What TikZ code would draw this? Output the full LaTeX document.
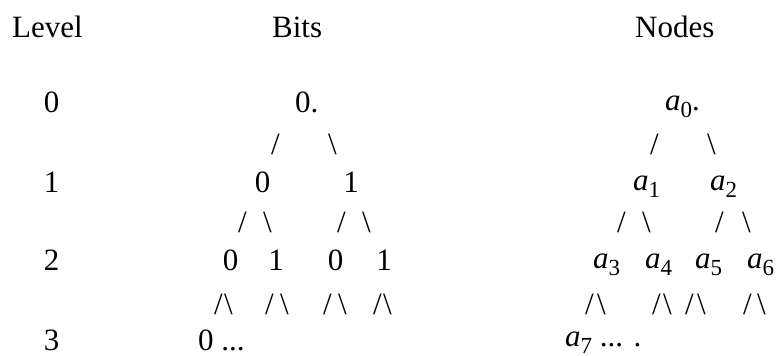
\documentclass[tikz,border=0pt]{standalone}
\usepackage{fontspec}
\setmainfont{Liberation Serif}
\newcommand\asub[1]{\textit{a}\raisebox{-7pt}{\fontsize{23}{23}\selectfont #1}}
\begin{document}
\begin{tikzpicture}[x=1pt,y=-1pt,
  lbl/.style={inner sep=0pt, anchor=base west, font=\fontsize{31}{37}\selectfont},
  ctr/.style={inner sep=0pt, anchor=base, font=\fontsize{31}{37}\selectfont}]
\useasboundingbox (0,0) rectangle (780,356);
% headers
\node[lbl] (hlevel) at (12,37) {Level};
\node[lbl] (hbits) at (272,37) {Bits};
\node[lbl] (hnodes) at (635,37) {Nodes};
% level numbers
\node[ctr] (l0) at (51.5,112) {0};
\node[ctr] (l1) at (51.5,192) {1};
\node[ctr] (l2) at (51.5,270) {2};
\node[ctr] (l3) at (51.5,350) {3};
% bits tree
\node[lbl] (b0) at (295,112) {0.};
\node[lbl] (bs1a) at (271,154) {/};
\node[lbl] (bs1b) at (328,154) {\textbackslash};
\node[ctr] (b1a) at (262.5,192) {0};
\node[ctr] (b1b) at (351,192) {1};
\node[lbl] (bs2a) at (238,232) {/};
\node[lbl] (bs2b) at (263,232) {\textbackslash};
\node[lbl] (bs2c) at (337,232) {/};
\node[lbl] (bs2d) at (362,232) {\textbackslash};
\node[ctr] (b2a) at (230.5,270) {0};
\node[ctr] (b2b) at (276,270) {1};
\node[ctr] (b2c) at (335.5,270) {0};
\node[ctr] (b2d) at (384,270) {1};
\node[lbl] (bs3a) at (214,314) {/};
\node[lbl] (bs3b) at (224,314) {\textbackslash};
\node[lbl] (bs3c) at (265,314) {/};
\node[lbl] (bs3d) at (280,314) {\textbackslash};
\node[lbl] (bs3e) at (323,314) {/};
\node[lbl] (bs3f) at (338,314) {\textbackslash};
\node[lbl] (bs3g) at (373,314) {/};
\node[lbl] (bs3h) at (383,314) {\textbackslash};
\node[lbl] (b3) at (198,350) {0 ...};
% nodes tree
\node[lbl] (n0) at (665,110) {\asub{0}.};
\node[lbl] (ns1a) at (650,154) {/};
\node[lbl] (ns1b) at (707,154) {\textbackslash};
\node[lbl] (n1) at (633,190) {\asub{1}};
\node[lbl] (n2) at (710,190) {\asub{2}};
\node[lbl] (ns2a) at (617,232) {/};
\node[lbl] (ns2b) at (642,232) {\textbackslash};
\node[lbl] (ns2c) at (715,232) {/};
\node[lbl] (ns2d) at (742,232) {\textbackslash};
\node[lbl] (n3) at (593,268) {\asub{3}};
\node[lbl] (n4) at (645,268) {\asub{4}};
\node[lbl] (n5) at (695,268) {\asub{5}};
\node[lbl] (n6) at (747,268) {\asub{6}};
\node[lbl] (ns3a) at (585,314) {/};
\node[lbl] (ns3b) at (597,314) {\textbackslash};
\node[lbl] (ns3c) at (652,314) {/};
\node[lbl] (ns3d) at (663,314) {\textbackslash};
\node[lbl] (ns3e) at (685,314) {/};
\node[lbl] (ns3f) at (697,314) {\textbackslash};
\node[lbl] (ns3g) at (743,314) {/};
\node[lbl] (ns3h) at (757,314) {\textbackslash};
\node[lbl] (n7) at (565,346) {\asub{7} ... .};
\end{tikzpicture}
\end{document}
